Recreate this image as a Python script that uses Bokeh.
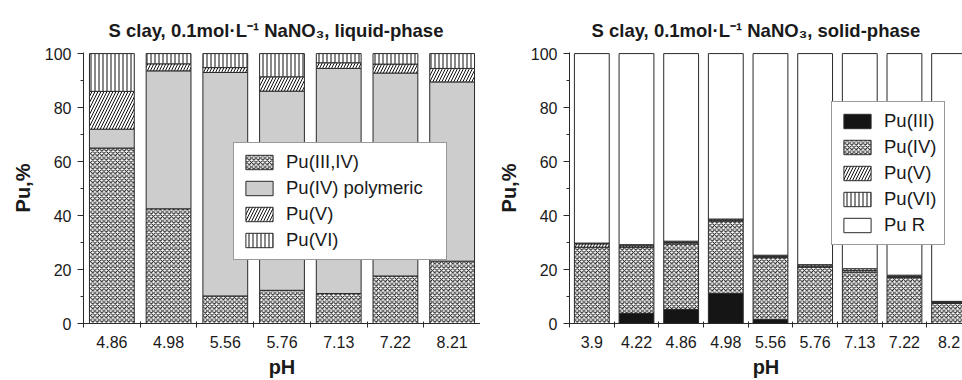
from bokeh.plotting import figure
from bokeh.models import FixedTicker, Range1d, ColumnDataSource
from bokeh.layouts import row
from bokeh.embed import file_html
from bokeh.resources import INLINE

# ---------------- data ----------------
ph_liquid = ["4.86", "4.98", "5.56", "5.76", "7.13", "7.22", "8.21"]
liq_pu34 = [65.0, 42.5, 10.2, 12.3, 11.1, 17.6, 23.1]
liq_poly = [7.0, 51.1, 82.8, 73.8, 83.4, 75.2, 66.4]
liq_pu5 = [14.0, 2.6, 1.8, 5.3, 2.1, 3.3, 5.0]
liq_pu6 = [14.0, 3.8, 5.2, 8.6, 3.4, 3.9, 5.5]

ph_solid = ["3.9", "4.22", "4.86", "4.98", "5.56", "5.76", "7.13", "7.22", "8.2"]
sol_pu3 = [0.0, 3.7, 5.2, 11.1, 1.5, 0.0, 0.0, 0.0, 0.0]
sol_pu4 = [28.3, 24.6, 24.3, 26.8, 22.9, 20.9, 19.0, 17.0, 7.4]
sol_pu5 = [1.2, 0.5, 0.5, 0.4, 0.4, 0.4, 0.6, 0.4, 0.4]
sol_pu6 = [0.3, 0.4, 0.5, 0.4, 0.5, 0.5, 0.7, 0.5, 0.4]
sol_puR = [70.2, 70.8, 69.5, 61.3, 74.7, 78.2, 79.7, 82.1, 91.8]

y_ticks = [0, 20, 40, 60, 80, 100]
y_minor = [10, 30, 50, 70, 90]

FONT = "Liberation Sans"
TXT = "#1a1a1a"
LINE = "#2a2a2a"


def make_fig(title, labels, width, border_left, x_end, title_offset):
    p = figure(width=width, height=380, output_backend="svg", toolbar_location=None,
               x_range=Range1d(0, x_end), y_range=Range1d(0, 100.4),
               min_border_left=border_left, min_border_right=0,
               min_border_top=52, min_border_bottom=57,
               title=title)
    p.outline_line_color = None
    p.xgrid.visible = False
    p.ygrid.visible = False
    p.background_fill_color = "white"
    p.border_fill_color = "white"

    p.title.text_font = FONT
    p.title.text_font_size = "18.5px"
    p.title.text_font_style = "bold"
    p.title.text_color = TXT
    p.title.align = "left"
    p.title.offset = title_offset
    p.title.standoff = 24

    n = len(labels)
    centers = [i + 0.5 for i in range(n)]
    bounds = [i for i in range(n + 1)]
    xa = p.xaxis[0]
    xa.ticker = FixedTicker(ticks=centers, minor_ticks=bounds)
    xa.major_label_overrides = {c: lab for c, lab in zip(centers, labels)}
    xa.major_tick_in = 0
    xa.major_tick_out = 0
    xa.minor_tick_in = 2
    xa.minor_tick_out = 4
    xa.axis_label = "pH"

    ya = p.yaxis[0]
    ya.ticker = FixedTicker(ticks=y_ticks, minor_ticks=y_minor)
    ya.major_tick_in = 0
    ya.major_tick_out = 6
    ya.minor_tick_in = 0
    ya.minor_tick_out = 3
    ya.axis_label = "Pu,%"

    for ax in (xa, ya):
        ax.axis_line_color = LINE
        ax.major_tick_line_color = LINE
        ax.minor_tick_line_color = LINE
        ax.major_label_text_font = FONT
        ax.major_label_text_font_size = "16px"
        ax.major_label_text_color = TXT
        ax.major_label_standoff = 6
        ax.axis_label_text_font = FONT
        ax.axis_label_text_font_size = "20px"
        ax.axis_label_text_font_style = "bold"
        ax.axis_label_text_color = TXT
    xa.major_label_standoff = 8
    xa.axis_label_standoff = 5
    ya.axis_label_standoff = 8
    return p, centers


def style_legend(p, loc, label_width):
    lg = p.legend[0]
    lg.location = loc
    lg.border_line_color = "#333333"
    lg.border_line_width = 1
    lg.background_fill_color = "white"
    lg.background_fill_alpha = 1
    lg.glyph_width = 34
    lg.glyph_height = 18
    lg.label_height = 18
    lg.label_width = label_width
    lg.spacing = 4
    lg.padding = 8
    lg.margin = 0
    lg.label_standoff = 10
    lg.label_text_font = FONT
    lg.label_text_font_size = "18.5px"
    lg.label_text_color = TXT


# ---------------- liquid phase ----------------
p1, c1 = make_fig("S clay, 0.1mol\u00b7L\u207b\u00b9 NaNO\u2083, liquid-phase",
                  ph_liquid, 480, 83, len(ph_liquid), 25)
src1 = ColumnDataSource(dict(x=c1, a=liq_pu34, b=liq_poly, c=liq_pu5, d=liq_pu6))
p1.vbar_stack(["a", "b", "c", "d"], x="x", width=0.79, source=src1,
              fill_color=["white", "#cdcdcd", "white", "white"],
              hatch_pattern=["x", " ", "/", "|"],
              hatch_scale=[4.5, 4, 6, 4],
              hatch_weight=[1, 1, 1, 1],
              hatch_color=["#111111", "#111111", "#111111", "#111111"],
              line_color=LINE, line_width=1,
              legend_label=["Pu(III,IV)", "Pu(IV) polymeric", "Pu(V)", "Pu(VI)"])
style_legend(p1, (150, 63), 152)

# ---------------- solid phase ----------------
p2, c2 = make_fig("S clay, 0.1mol\u00b7L\u207b\u00b9 NaNO\u2083, solid-phase",
                  ph_solid, 482, 89, 8.8, 22)
src2 = ColumnDataSource(dict(x=c2, a=sol_pu3, b=sol_pu4, c=sol_pu5, d=sol_pu6, e=sol_puR))
p2.vbar_stack(["a", "b", "c", "d", "e"], x="x", width=0.78, source=src2,
              fill_color=["#151515", "white", "white", "white", "white"],
              hatch_pattern=[" ", "x", "/", "|", " "],
              hatch_scale=[4, 4.5, 6, 4, 4],
              hatch_weight=[1, 1, 1, 1, 1],
              hatch_color=["#111111"] * 5,
              line_color=LINE, line_width=1,
              legend_label=["Pu(III)", "Pu(IV)", "Pu(V)", "Pu(VI)", "Pu R"])
style_legend(p2, (262, 78), 50)

layout = row(p1, p2)
open("out.html", "w").write(file_html(layout, INLINE))
